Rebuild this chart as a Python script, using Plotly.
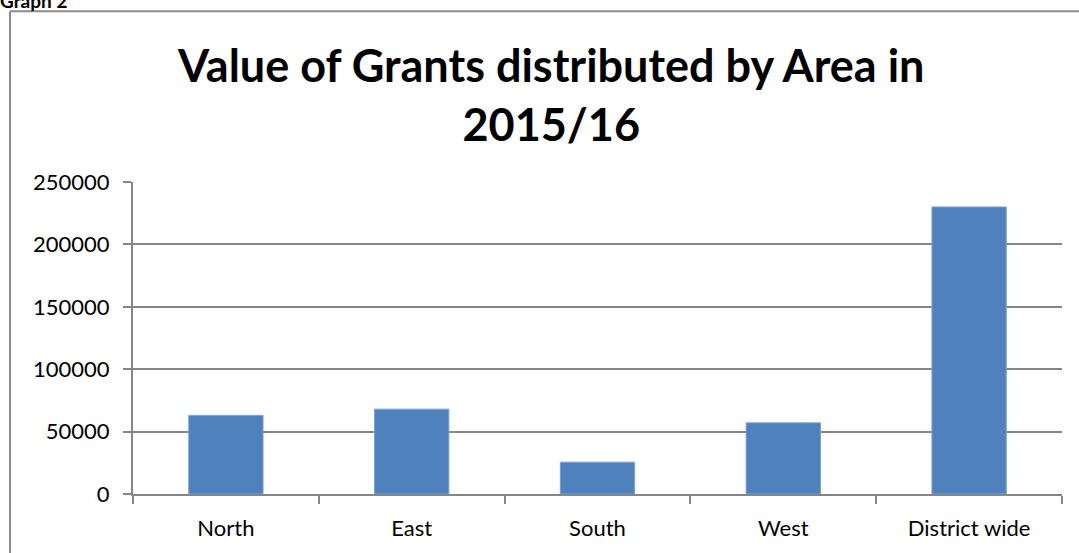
import plotly.graph_objects as go

categories = ["North", "East", "South", "West", "District wide"]
values = [63000, 68000, 25500, 57000, 230000]
y_ticks = [0, 50000, 100000, 150000, 200000, 250000]

W, H = 1079, 553
L, R, T, B = 133, 17, 181.5, 59
pw, ph = W - L - R, H - T - B

def px(x):
    return (x - L) / pw

def py(y):
    return (H - B - y) / ph

fig = go.Figure(go.Bar(
    x=categories, y=values,
    marker=dict(color="#4F81BD", line=dict(color="#7DA1D0", width=1)),
    width=0.4,
))

fig.update_layout(
    width=W, height=H,
    margin=dict(l=L, r=R, t=T, b=B, autoexpand=False),
    paper_bgcolor="white", plot_bgcolor="white",
    showlegend=False,
    font=dict(family="Lato, 'Open Sans', sans-serif", color="black", size=22),
    xaxis=dict(
        showline=True, linecolor="#868686", linewidth=2,
        ticks="outside", tickson="boundaries", ticklen=8, tickcolor="#868686", tickwidth=2,
        tickfont=dict(size=22), showgrid=False, ticklabelstandoff=14,
    ),
    yaxis=dict(
        range=[0, 250000], tickvals=y_ticks, ticktext=[str(v) for v in y_ticks],
        showline=True, linecolor="#868686", linewidth=2,
        ticks="outside", ticklen=8, tickcolor="#868686", tickwidth=2,
        showgrid=True, gridcolor="#868686", gridwidth=2,
        tickfont=dict(size=22), zeroline=False, ticklabelstandoff=9,
    ),
    shapes=[
        dict(type="line", xref="paper", yref="paper", x0=px(10), x1=px(1085), y0=py(10.5), y1=py(10.5),
             line=dict(color="#8c8c8c", width=2)),
        dict(type="line", xref="paper", yref="paper", x0=px(10), x1=px(10), y0=py(10.5), y1=py(560),
             line=dict(color="#8c8c8c", width=2)),
    ],
    annotations=[
        dict(text="<b>Value of Grants distributed by Area in<br>2015/16</b>", xref="paper", yref="paper",
             x=px(550), y=py(94), xanchor="center", yanchor="middle", showarrow=False,
             font=dict(size=45, family="Lato, 'Open Sans', sans-serif"), align="center"),
        dict(text="<b>Graph 2</b>", xref="paper", yref="paper", x=px(-2), y=py(13),
             xanchor="left", yanchor="bottom", showarrow=False,
             font=dict(size=19, family="Lato, sans-serif")),
    ],
)

fig.write_html("out.html", config={"displayModeBar": False},
               post_script="document.body.style.margin='0';")
